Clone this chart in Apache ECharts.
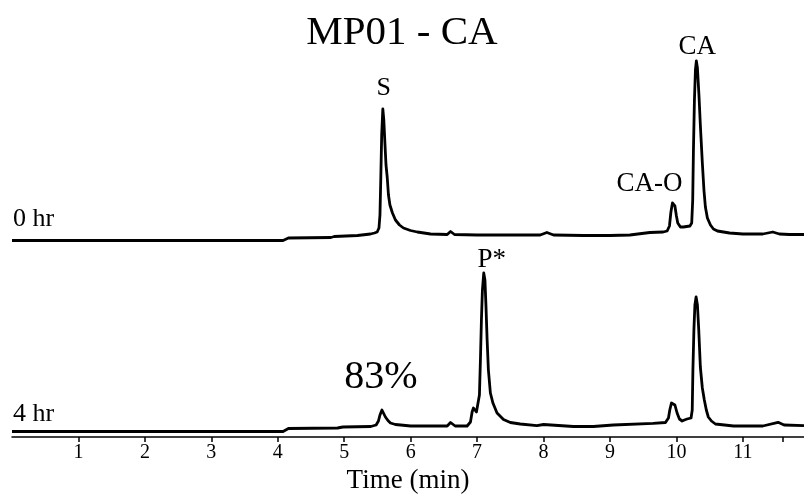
<!DOCTYPE html>
<html>
<head>
<meta charset="utf-8">
<script src="https://cdn.jsdelivr.net/npm/echarts@6/dist/echarts.min.js"></script>
<style>
  html, body { margin: 0; padding: 0; background: #fff; }
  #chart { width: 804px; height: 497px; }
</style>
</head>
<body>
<div id="chart"></div>
<script>
// Retention time (min) and detector response for the 0 hr injection
const time0 = [0.00, 4.08, 4.16, 4.80, 4.85, 5.20, 5.395, 5.455, 5.496, 5.523, 5.538, 5.550, 5.564, 5.581, 5.596, 5.614, 5.629, 5.647, 5.666, 5.688, 5.726, 5.771, 5.832, 5.892, 5.997, 6.10, 6.30, 6.55, 6.60, 6.66, 7.00, 7.50, 7.95, 8.05, 8.15, 8.60, 9.00, 9.30, 9.60, 9.80, 9.86, 9.895, 9.917, 9.94, 9.955, 9.977, 10.00, 10.02, 10.06, 10.105, 10.203, 10.23, 10.245, 10.256, 10.271, 10.286, 10.30, 10.316, 10.339, 10.36, 10.39, 10.414, 10.436, 10.466, 10.512, 10.557, 10.617, 10.80, 11.00, 11.30, 11.45, 11.55, 11.70, 11.92];
const signal0 = [4.5, 4.5, 7, 7.5, 8.5, 9.5, 11, 12, 13, 17, 30, 65, 110, 136, 125, 100, 80, 68, 50, 40, 32, 25, 20, 17, 14.5, 13, 11, 10.5, 13.5, 10.5, 10, 10, 10, 12.5, 10, 9.5, 9.5, 10, 12.5, 13, 14, 19, 33, 42, 43.5, 39, 29, 22, 18, 18, 19, 22, 45, 95, 145, 175, 184, 177, 150, 120, 82, 55, 38, 27, 20, 16, 14, 12, 11, 11, 13, 11, 10.5, 10.5];

// Retention time (min) and detector response after 4 hr
const time4 = [0.00, 4.08, 4.16, 4.90, 4.98, 5.40, 5.48, 5.515, 5.538, 5.568, 5.59, 5.62, 5.658, 5.696, 5.77, 5.85, 6.00, 6.03, 6.06, 6.55, 6.60, 6.67, 6.85, 6.90, 6.925, 6.945, 6.967, 6.99, 7.013, 7.035, 7.05, 7.065, 7.08, 7.10, 7.118, 7.133, 7.151, 7.17, 7.20, 7.238, 7.30, 7.397, 7.50, 7.65, 7.90, 8.00, 8.45, 8.75, 9.05, 9.65, 9.835, 9.88, 9.90, 9.925, 9.95, 9.977, 10.01, 10.045, 10.086, 10.12, 10.16, 10.22, 10.238, 10.248, 10.263, 10.278, 10.296, 10.316, 10.336, 10.36, 10.39, 10.42, 10.45, 10.48, 10.527, 10.587, 10.86, 11.30, 11.53, 11.62, 11.92];
const signal4 = [5.5, 5.5, 8.5, 9, 10, 10.5, 12, 16, 22, 27, 25, 20, 16.5, 14, 12.5, 12, 11, 12, 11, 11, 14.5, 11, 11, 15, 25, 29, 28.5, 25, 25, 42, 77, 117, 147, 164, 157, 132, 97, 67, 44, 34, 24, 17.5, 14.5, 13, 11.3, 12.5, 10.5, 10.5, 12, 13.7, 14.5, 19, 27, 34, 35.3, 32, 24, 18, 16, 17, 18, 19, 27, 67, 107, 132, 140, 132, 107, 70, 49, 37, 27, 20, 16, 13, 11, 11, 14.7, 12, 11.3];

// Vertical stacking offset of the upper (0 hr) trace
const offset0 = 192;

// Axis tick positions and labels
const tickValues = [1, 2, 3, 4, 5, 6, 7, 8, 9, 10, 11, 11.6];
const labelValues = [1, 2, 3, 4, 5, 6, 7, 8, 9, 10, 11];

// Peak annotations: [name, time, trace]
const peakNames = [
  ['S', 5.581, '0'],
  ['CA-O', 9.955, '0'],
  ['CA', 10.30, '0'],
  ['P*', 7.10, '4'],
  ['83%', 5.568, '4']
];

const serif = '"Liberation Serif", "DejaVu Serif", serif';

function pairs(t, v, off) {
  return t.map((x, i) => [x, v[i] + off]);
}
function peakValue(t, trace) {
  const ts = trace === '0' ? time0 : time4;
  const vs = trace === '0' ? signal0 : signal4;
  const off = trace === '0' ? offset0 : 0;
  return vs[ts.indexOf(t)] + off;
}

// label placement per annotation
const labelStyle = {
  'S':    { size: 26, dx: 1,   dist: 8 },
  'CA-O': { size: 27, dx: -24, dist: 4 },
  'CA':   { size: 27, dx: 1,   dist: 1 },
  'P*':   { size: 27, dx: 8,   dist: 0 },
  '83%':  { size: 40, dx: -1,  dist: 13 }
};

function marks(trace) {
  return peakNames.filter(p => p[2] === trace).map(p => {
    const s = labelStyle[p[0]];
    return {
      coord: [p[1], peakValue(p[1], trace)],
      label: {
        show: true,
        formatter: p[0],
        position: 'top',
        distance: s.dist,
        offset: [s.dx, 0],
        fontFamily: serif,
        fontSize: s.size,
        color: '#000'
      }
    };
  });
}

const lineStyle = { color: '#000', width: 2.8, join: 'round' };

const chart = echarts.init(document.getElementById('chart'));
chart.setOption({
  animation: false,
  backgroundColor: '#fff',
  title: {
    text: 'MP01 - CA',
    left: 'center',
    top: 8,
    textStyle: { fontFamily: serif, fontSize: 41, fontWeight: 'normal', color: '#000' }
  },
  grid: { left: 12, right: 0, top: 37, bottom: 60, containLabel: false, outerBoundsMode: 'none' },
  xAxis: {
    type: 'value',
    min: 0,
    max: 11.92,
    name: 'Time (min)',
    nameLocation: 'middle',
    nameGap: 28,
    nameTextStyle: { fontFamily: serif, fontSize: 27, color: '#000' },
    axisLine: { lineStyle: { color: '#000', width: 1.5 } },
    axisTick: { show: true, length: 5, customValues: tickValues, lineStyle: { color: '#000', width: 1.5 } },
    axisLabel: { customValues: labelValues, fontFamily: serif, fontSize: 20, color: '#000', margin: 6 },
    splitLine: { show: false }
  },
  yAxis: { type: 'value', min: 0, max: 400, show: false },
  graphic: [
    { type: 'text', left: 13, top: 206, style: { text: '0 hr', font: '26px ' + serif, fill: '#000' } },
    { type: 'text', left: 13, top: 401, style: { text: '4 hr', font: '26px ' + serif, fill: '#000' } }
  ],
  series: [
    {
      name: '0 hr', type: 'line', data: pairs(time0, signal0, offset0),
      showSymbol: false, smooth: false, lineStyle: lineStyle,
      markPoint: { symbol: 'circle', symbolSize: 0, data: marks('0') }
    },
    {
      name: '4 hr', type: 'line', data: pairs(time4, signal4, 0),
      showSymbol: false, smooth: false, lineStyle: lineStyle,
      markPoint: { symbol: 'circle', symbolSize: 0, data: marks('4') }
    }
  ]
});
</script>
</body>
</html>
